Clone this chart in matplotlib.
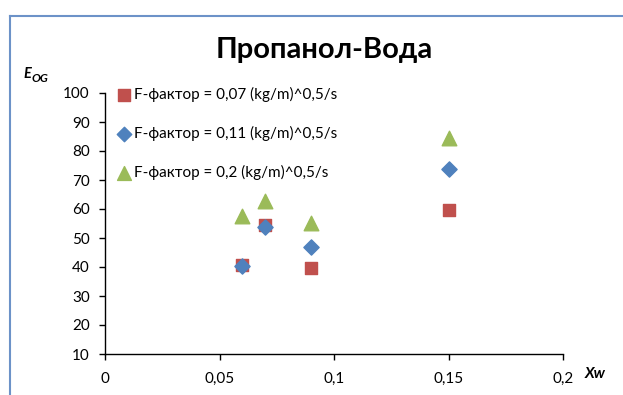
import matplotlib
matplotlib.use("Agg")
import matplotlib.pyplot as plt
from matplotlib.lines import Line2D

plt.rcParams['font.family'] = ['Lato', 'Noto Sans', 'DejaVu Sans']

# данные
xw = [0.06, 0.07, 0.09, 0.15]
eog_007 = [40.6, 54.6, 39.8, 59.7]
eog_011 = [40.4, 53.7, 46.8, 73.8]
eog_02 = [57.6, 62.9, 55.3, 84.6]
labels = ['F-фактор = 0,07 (kg/m)^0,5/s',
          'F-фактор = 0,11 (kg/m)^0,5/s',
          'F-фактор = 0,2 (kg/m)^0,5/s']
xticks = [0, 0.05, 0.1, 0.15, 0.2]
xticklabels = ['0', '0,05', '0,1', '0,15', '0,2']
yticks = [10, 20, 30, 40, 50, 60, 70, 80, 90, 100]

W, H = 623, 395
fig = plt.figure(figsize=(W / 100, H / 100), dpi=100)
ax = fig.add_axes([105 / W, 1 - 354 / H, (563 - 105) / W, (354 - 93) / H])

ax.scatter(xw, eog_007, marker='s', s=85, color='#C0504D', label=labels[0], zorder=3)
ax.scatter(xw, eog_011, marker='D', s=60, color='#4F81BD', label=labels[1], zorder=4)
ax.scatter(xw, eog_02, marker='^', s=110, color='#9BBB59', label=labels[2], zorder=3)

ax.set_xlim(0, 0.2)
ax.set_ylim(10, 100)
ax.set_xticks(xticks)
ax.set_xticklabels(xticklabels)
ax.set_yticks(yticks)
ax.tick_params(direction='out', length=4, width=1, labelsize=11, pad=7, color='black')
ax.tick_params(axis='x', pad=9)
for s in ['top', 'right']:
    ax.spines[s].set_visible(False)
for s in ['left', 'bottom']:
    ax.spines[s].set_linewidth(1)
    ax.spines[s].set_color('black')

leg = ax.legend(loc='upper left', bbox_to_anchor=(-0.003, 1.063), frameon=False,
                fontsize=11, handletextpad=0.0, labelspacing=1.55,
                handlelength=1.3, borderaxespad=0.3, markerscale=0.95)

fig.text(324 / W, 1 - 50 / H, 'Пропанол-Вода', ha='center', va='center',
         fontsize=21, fontweight='bold')
fig.text(23 / W, 1 - 74.5 / H, 'E', ha='left', va='center', fontsize=10.5,
         fontweight='bold', style='italic')
fig.text(32 / W, 1 - 79 / H, 'OG', ha='left', va='center', fontsize=8.5,
         fontweight='bold', style='italic')
fig.text(585 / W, 1 - 374 / H, 'Xw', ha='left', va='center', fontsize=11,
         fontweight='bold', style='italic')

# рамка диаграммы
bc = '#6C92C8'
fig.add_artist(Line2D([9.5 / W, 9.5 / W], [1 - 15.5 / H, 0], color=bc, lw=1.5,
                      transform=fig.transFigure))
fig.add_artist(Line2D([9.5 / W, 1], [1 - 15.5 / H, 1 - 15.5 / H], color=bc, lw=1.5,
                      transform=fig.transFigure))

fig.savefig('out.png', dpi=100)
